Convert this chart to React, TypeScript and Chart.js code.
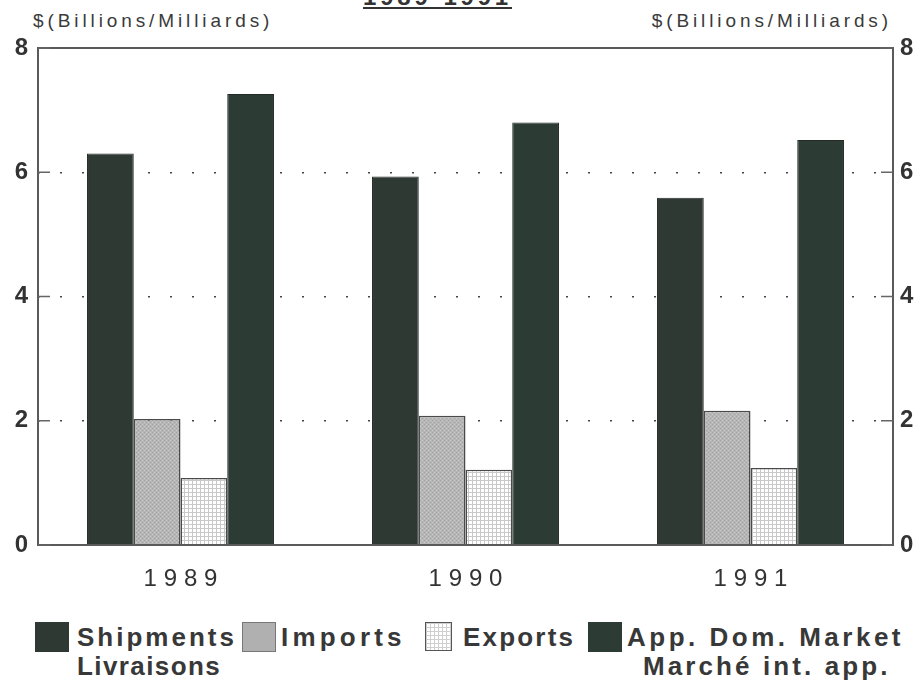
import React, { useEffect, useRef } from 'react';
import { Chart, registerables } from 'chart.js';

Chart.register(...registerables);

const categories = ['1989', '1990', '1991'];
const shipments = [6.3, 5.93, 5.59];
const imports = [2.03, 2.08, 2.16];
const exportsVals = [1.08, 1.21, 1.24];
const appDomMarket = [7.26, 6.8, 6.52];
const yTickValues = [0, 2, 4, 6, 8];

function makeImportsPattern(): CanvasPattern | string {
  const c = document.createElement('canvas');
  c.width = 4;
  c.height = 4;
  const g = c.getContext('2d');
  if (!g) return '#b4b4b4';
  g.fillStyle = '#b6b6b6';
  g.fillRect(0, 0, 4, 4);
  g.fillStyle = '#a2a2a2';
  g.fillRect(0, 0, 1, 1);
  g.fillRect(2, 2, 1, 1);
  g.fillStyle = '#c8c8c8';
  g.fillRect(2, 0, 1, 1);
  g.fillRect(0, 2, 1, 1);
  return g.createPattern(c, 'repeat') || '#b4b4b4';
}

function makeExportsPattern(): CanvasPattern | string {
  const c = document.createElement('canvas');
  c.width = 4;
  c.height = 4;
  const g = c.getContext('2d');
  if (!g) return '#f4f4f4';
  g.fillStyle = '#ffffff';
  g.fillRect(0, 0, 4, 4);
  g.fillStyle = '#c9c9c9';
  g.fillRect(0, 0, 4, 1);
  g.fillRect(0, 0, 1, 4);
  return g.createPattern(c, 'repeat') || '#f4f4f4';
}

const framePlugin = {
  id: 'frame',
  afterDraw(chart: any) {
    const { ctx, chartArea: a } = chart;
    const y = chart.scales.y;
    ctx.save();
    ctx.strokeStyle = '#5a5a5a';
    ctx.lineWidth = 2;
    ctx.strokeRect(a.left, a.top, a.right - a.left, a.bottom - a.top);
    ctx.lineWidth = 1.5;
    ctx.strokeStyle = '#666';
    yTickValues.forEach((v) => {
      const py = y.getPixelForValue(v);
      ctx.beginPath();
      ctx.moveTo(a.left, py);
      ctx.lineTo(a.left + 12, py);
      ctx.moveTo(a.right - 12, py);
      ctx.lineTo(a.right, py);
      ctx.stroke();
    });
    ctx.restore();
  },
};

const FONT = "'Liberation Sans', Arial, Helvetica, sans-serif";

export default function App() {
  const canvasRef = useRef<HTMLCanvasElement | null>(null);

  useEffect(() => {
    if (!canvasRef.current) return;
    const importsPat = makeImportsPattern();
    const exportsPat = makeExportsPattern();
    const chart = new Chart(canvasRef.current, {
      type: 'bar',
      data: {
        labels: categories,
        datasets: [
          {
            label: 'Shipments',
            data: shipments,
            backgroundColor: '#2f3934',
            borderColor: '#262b28',
            borderWidth: 1,
            categoryPercentage: 0.656,
            barPercentage: 1,
            yAxisID: 'y',
          },
          {
            label: 'Imports',
            data: imports,
            backgroundColor: importsPat as any,
            borderColor: '#4a4a4a',
            borderWidth: 1.5,
            categoryPercentage: 0.656,
            barPercentage: 1,
            yAxisID: 'y',
          },
          {
            label: 'Exports',
            data: exportsVals,
            backgroundColor: exportsPat as any,
            borderColor: '#4a4a4a',
            borderWidth: 1.5,
            categoryPercentage: 0.656,
            barPercentage: 1,
            yAxisID: 'y',
          },
          {
            label: 'App. Dom. Market',
            data: appDomMarket,
            backgroundColor: '#2c3b33',
            borderColor: '#242b27',
            borderWidth: 1,
            categoryPercentage: 0.656,
            barPercentage: 1,
            yAxisID: 'y',
          },
        ],
      },
      options: {
        animation: false,
        responsive: true,
        maintainAspectRatio: false,
        layout: { padding: { top: 48, left: 0, right: 0, bottom: 0 } },
        plugins: {
          legend: { display: false },
          title: { display: false },
          tooltip: { enabled: false },
        },
        scales: {
          x: {
            grid: { display: false },
            border: { display: false },
            ticks: {
              color: '#333',
              font: { family: FONT, size: 24 },
              padding: 12,
              callback: (_v: any, i: number) => categories[i].split('').join('\u2009\u200A'),
            },
            afterFit: (s: any) => {
              s.height = 55;
            },
          },
          y: {
            position: 'left',
            min: 0,
            max: 8,
            afterBuildTicks: (s: any) => {
              s.ticks = yTickValues.map((v) => ({ value: v }));
            },
            grid: { color: '#444', lineWidth: 1.5, drawTicks: false },
            border: { display: false, dash: [2, 20] },
            ticks: {
              color: '#333',
              font: { family: FONT, size: 24, weight: 'bold' },
              padding: 10,
            },
            afterFit: (s: any) => {
              s.width = 38;
            },
          },
          y2: {
            position: 'right',
            min: 0,
            max: 8,
            afterBuildTicks: (s: any) => {
              s.ticks = yTickValues.map((v) => ({ value: v }));
            },
            grid: { display: false, drawTicks: false },
            border: { display: false },
            ticks: {
              color: '#333',
              font: { family: FONT, size: 24, weight: 'bold' },
              padding: 7,
            },
            afterFit: (s: any) => {
              s.width = 29;
            },
          },
        },
      } as any,
      plugins: [framePlugin],
    });
    return () => chart.destroy();
  }, []);

  const legendText: React.CSSProperties = {
    position: 'absolute',
    fontFamily: FONT,
    fontWeight: 'bold',
    fontSize: 26,
    color: '#383838',
    whiteSpace: 'nowrap',
    lineHeight: '28px',
  };
  const axisTitle: React.CSSProperties = {
    position: 'absolute',
    fontFamily: FONT,
    fontSize: 19,
    letterSpacing: '3.9px',
    color: '#3a3a3a',
    whiteSpace: 'nowrap',
    top: 9,
    lineHeight: '24px',
  };

  return (
    <div
      style={{
        position: 'fixed',
        left: 0,
        top: 0,
        width: 922,
        height: 683,
        background: '#fff',
        overflow: 'hidden',
      }}
    >
      <div
        style={{
          position: 'absolute',
          top: -15,
          left: 363,
          fontFamily: FONT,
          fontWeight: 'bold',
          fontSize: 24,
          letterSpacing: '3.8px',
          color: '#333',
          textDecoration: 'underline',
          lineHeight: '24px',
          whiteSpace: 'nowrap',
        }}
      >
        1989-1991
      </div>
      <div style={{ ...axisTitle, left: 33 }}>$(Billions/Milliards)</div>
      <div style={{ ...axisTitle, right: 30 }}>$(Billions/Milliards)</div>
      <div style={{ position: 'absolute', left: 0, top: 0, width: 922, height: 600 }}>
        <canvas ref={canvasRef} />
      </div>

      <div style={{ position: 'absolute', left: 35, top: 622, width: 34, height: 30, background: '#2f3934' }} />
      <div style={{ ...legendText, left: 77, top: 623, letterSpacing: '3px' }}>Shipments</div>
      <div style={{ ...legendText, left: 77, top: 652, letterSpacing: '1.4px' }}>Livraisons</div>

      <div
        style={{
          position: 'absolute',
          left: 242,
          top: 622,
          width: 32,
          height: 28,
          background: '#b0b0b0',
          border: '1px solid #777',
        }}
      />
      <div style={{ ...legendText, left: 281, top: 623, letterSpacing: '4.2px' }}>Imports</div>

      <div
        style={{
          position: 'absolute',
          left: 425,
          top: 622,
          width: 25,
          height: 27,
          backgroundColor: '#fff',
          backgroundImage:
            'linear-gradient(#cfcfcf 1px, transparent 1px), linear-gradient(90deg, #cfcfcf 1px, transparent 1px)',
          backgroundSize: '4px 4px',
          border: '1.5px solid #555',
        }}
      />
      <div style={{ ...legendText, left: 463, top: 623, letterSpacing: '2.2px' }}>Exports</div>

      <div style={{ position: 'absolute', left: 588, top: 622, width: 34, height: 30, background: '#2c3b33' }} />
      <div style={{ ...legendText, left: 627, top: 623, letterSpacing: '3.5px' }}>App. Dom. Market</div>
      <div style={{ ...legendText, left: 643, top: 652, letterSpacing: '3.1px' }}>Marché int. app.</div>
    </div>
  );
}
